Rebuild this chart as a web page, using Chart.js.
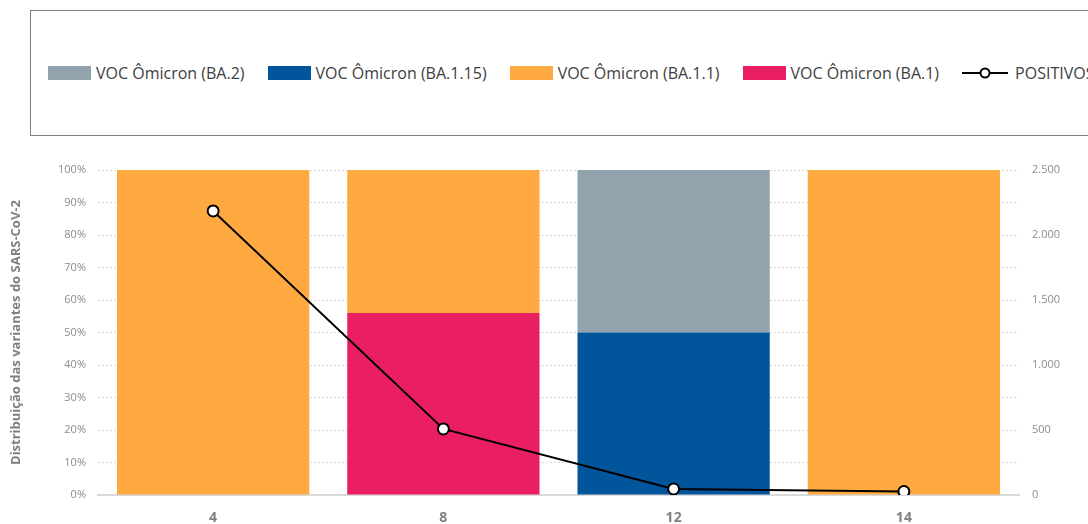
<!DOCTYPE html>
<html>
<head>
<meta charset="utf-8">
<script src="https://cdn.jsdelivr.net/npm/chart.js@4"></script>
<style>
  html, body { margin: 0; padding: 0; background: #fff; overflow: hidden; }
  #wrap { position: relative; width: 1088px; height: 524px; overflow: hidden; }
  #legendBox {
    position: absolute; left: 30px; top: 10px; width: 1100px; height: 126px;
    border: 1.5px solid #7f7f7f; box-sizing: border-box;
  }
  #legend {
    position: absolute; left: 48px; top: 62px; display: flex; align-items: center;
    font-family: "Open Sans", sans-serif; font-size: 16px; color: #404040; white-space: nowrap;
  }
  .item { display: flex; align-items: center; margin-right: 23px; }
  .sw { width: 43px; height: 14px; margin-right: 5px; }
  canvas { position: absolute; left: 0; top: 0; }
</style>
</head>
<body>
<div id="wrap">
  <div id="legendBox"></div>
  <div id="legend"></div>
  <canvas id="chart" width="1088" height="524"></canvas>
</div>
<script>
// semanas epidemiológicas
const semanas = ['4', '8', '12', '14'];

// distribuição das variantes (%)
const ba1 = [0, 56, 0, 0];
const ba11 = [100, 44, 0, 100];
const ba115 = [0, 0, 50, 0];
const ba2 = [0, 0, 50, 0];

// amostras positivas
const positivos = [2185, 508, 46, 27];

const pctTicks = [0, 10, 20, 30, 40, 50, 60, 70, 80, 90, 100];

const cores = {
    ba1: '#E91E63',
    ba11: '#FFAA40',
    ba115: '#00559B',
    ba2: '#91A4AD'
};

function formatPt(v) {
    return String(v).replace(/\B(?=(\d{3})+(?!\d))/g, '.');
}

const barOpts = { yAxisID: 'y', stack: 's', barPercentage: 0.835, categoryPercentage: 1, order: 2 };

const datasets = [
    { type: 'bar', label: 'VOC Ômicron (BA.1)', data: ba1, backgroundColor: cores.ba1, ...barOpts },
    { type: 'bar', label: 'VOC Ômicron (BA.1.1)', data: ba11, backgroundColor: cores.ba11, ...barOpts },
    { type: 'bar', label: 'VOC Ômicron (BA.1.15)', data: ba115, backgroundColor: cores.ba115, ...barOpts },
    { type: 'bar', label: 'VOC Ômicron (BA.2)', data: ba2, backgroundColor: cores.ba2, ...barOpts },
    {
        type: 'line', label: 'POSITIVOS', data: positivos, yAxisID: 'y2', order: 1,
        borderColor: '#000', borderWidth: 2, tension: 0,
        pointRadius: 5.5, pointBackgroundColor: '#fff', pointBorderColor: '#000', pointBorderWidth: 2
    }
];

// legenda em HTML (ordem igual à do gráfico original)
const legend = document.getElementById('legend');
[3, 2, 1, 0, 4].forEach(i => {
    const ds = datasets[i];
    const item = document.createElement('div');
    item.className = 'item';
    if (ds.type === 'bar') {
        item.innerHTML = `<div class="sw" style="background:${ds.backgroundColor}"></div><span>${ds.label}</span>`;
    } else {
        item.innerHTML = `<svg width="46" height="14" style="margin-right:7px"><line x1="0" y1="7" x2="46" y2="7" stroke="#000" stroke-width="2"/><circle cx="23" cy="7" r="4.5" fill="#fff" stroke="#000" stroke-width="2"/></svg><span>${ds.label}</span>`;
    }
    legend.appendChild(item);
});

const tickFont = { family: 'Open Sans', size: 11 };

new Chart(document.getElementById('chart'), {
    data: { labels: semanas, datasets: datasets },
    options: {
        responsive: false,
        animation: false,
        layout: { padding: { top: 170, left: 0, right: 0, bottom: 0 } },
        plugins: { legend: { display: false }, tooltip: { enabled: false } },
        scales: {
            x: {
                stacked: true,
                grid: { display: false, drawTicks: false },
                border: { color: '#d9d9d9', width: 2 },
                ticks: { color: '#808080', padding: 15, font: { family: 'Open Sans', size: 14, weight: 'bold' } },
                afterFit: s => { s.height = 29; }
            },
            y: {
                stacked: true,
                min: 0, max: 100,
                afterBuildTicks: s => { s.ticks = pctTicks.map(v => ({ value: v })); },
                grid: { color: '#d9d9d9', borderDash: [2, 2], drawTicks: false, lineWidth: 1 },
                border: { display: false, dash: [2, 2] },
                ticks: { color: '#8c8c8c', padding: 12, font: tickFont, callback: v => v + '%' },
                title: {
                    display: true, text: 'Distribuição das variantes do SARS-CoV-2',
                    color: '#7f7f7f', font: { family: 'Open Sans', size: 13, weight: 'bold' },
                    padding: { top: 8, bottom: 0 }
                },
                afterFit: s => { s.width = 98; }
            },
            y2: {
                position: 'right',
                min: 0, max: 2500,
                ticks: { stepSize: 500, color: '#8c8c8c', padding: 13, font: tickFont, callback: v => formatPt(v) },
                grid: { drawOnChartArea: false, drawTicks: false },
                border: { display: false },
                afterFit: s => { s.width = 69; }
            }
        }
    }
});
</script>
</body>
</html>
